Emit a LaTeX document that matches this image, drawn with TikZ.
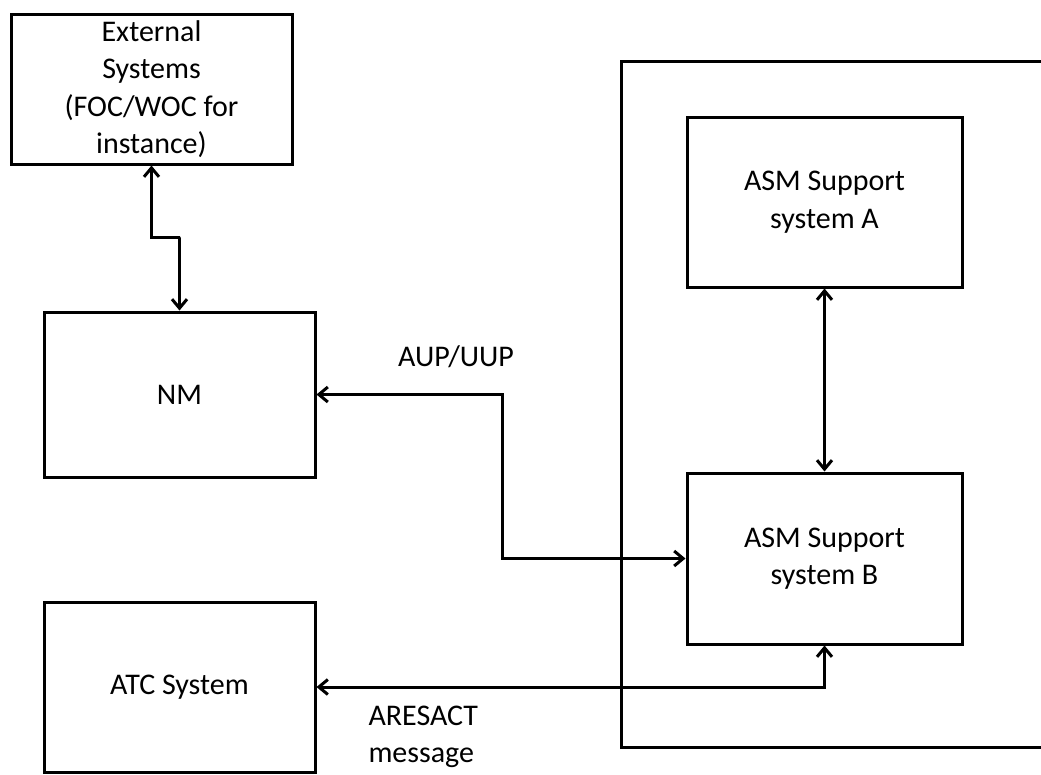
\documentclass[tikz,border=0pt]{standalone}
\usepackage{fontspec}
\setmainfont{Carlito}
\usetikzlibrary{arrows.meta}
\begin{document}
\begin{tikzpicture}[x=1pt,y=-1pt,
  line width=3pt,
  box/.style={draw, line width=3pt, inner sep=0pt, align=center, font=\fontsize{30}{37.5}\selectfont},
  lbl/.style={inner sep=0pt, align=left, font=\fontsize{30}{37.5}\selectfont},
  link/.style={line width=3pt, arrows={Straight Barb[length=9pt,width=15pt]-Straight Barb[length=9pt,width=15pt]}}]
\useasboundingbox (0,0) rectangle (1041,774);
% container
\draw[line width=3pt] (1045,61) -- (621,61) -- (621,747) -- (1045,747);
% boxes
\node[box, minimum width=281pt, minimum height=150pt] (ext) at (151.5,89) {External\\Systems\\(FOC/WOC for\\instance)};
\node[box, minimum width=271pt, minimum height=165pt] (nm) at (179.5,394.5) {NM};
\node[box, minimum width=271pt, minimum height=170pt] (atc) at (179.5,687) {ATC System};
\node[box, minimum width=275pt, minimum height=170pt] (asmA) at (824.5,202) {ASM Support\\system A};
\node[box, minimum width=275pt, minimum height=171pt] (asmB) at (824.5,558.5) {ASM Support\\system B};
% labels
\node[lbl, anchor=base] (aup) at (456,366) {AUP/UUP};
\node[lbl, anchor=west] (ares) at (367,737) {ARESACT\\message};
% connectors
\coordinate (j1) at (180,237);
\coordinate (j2) at (502,470);
\draw[link] (ext.south) |- (j1) -| (nm.north);
\draw[link] (nm.east) -| (j2) |- (asmB.west);
\draw[link] (asmA.south) -- (asmB.north);
\draw[link] (atc.east) -| (asmB.south);
\end{tikzpicture}
\end{document}
